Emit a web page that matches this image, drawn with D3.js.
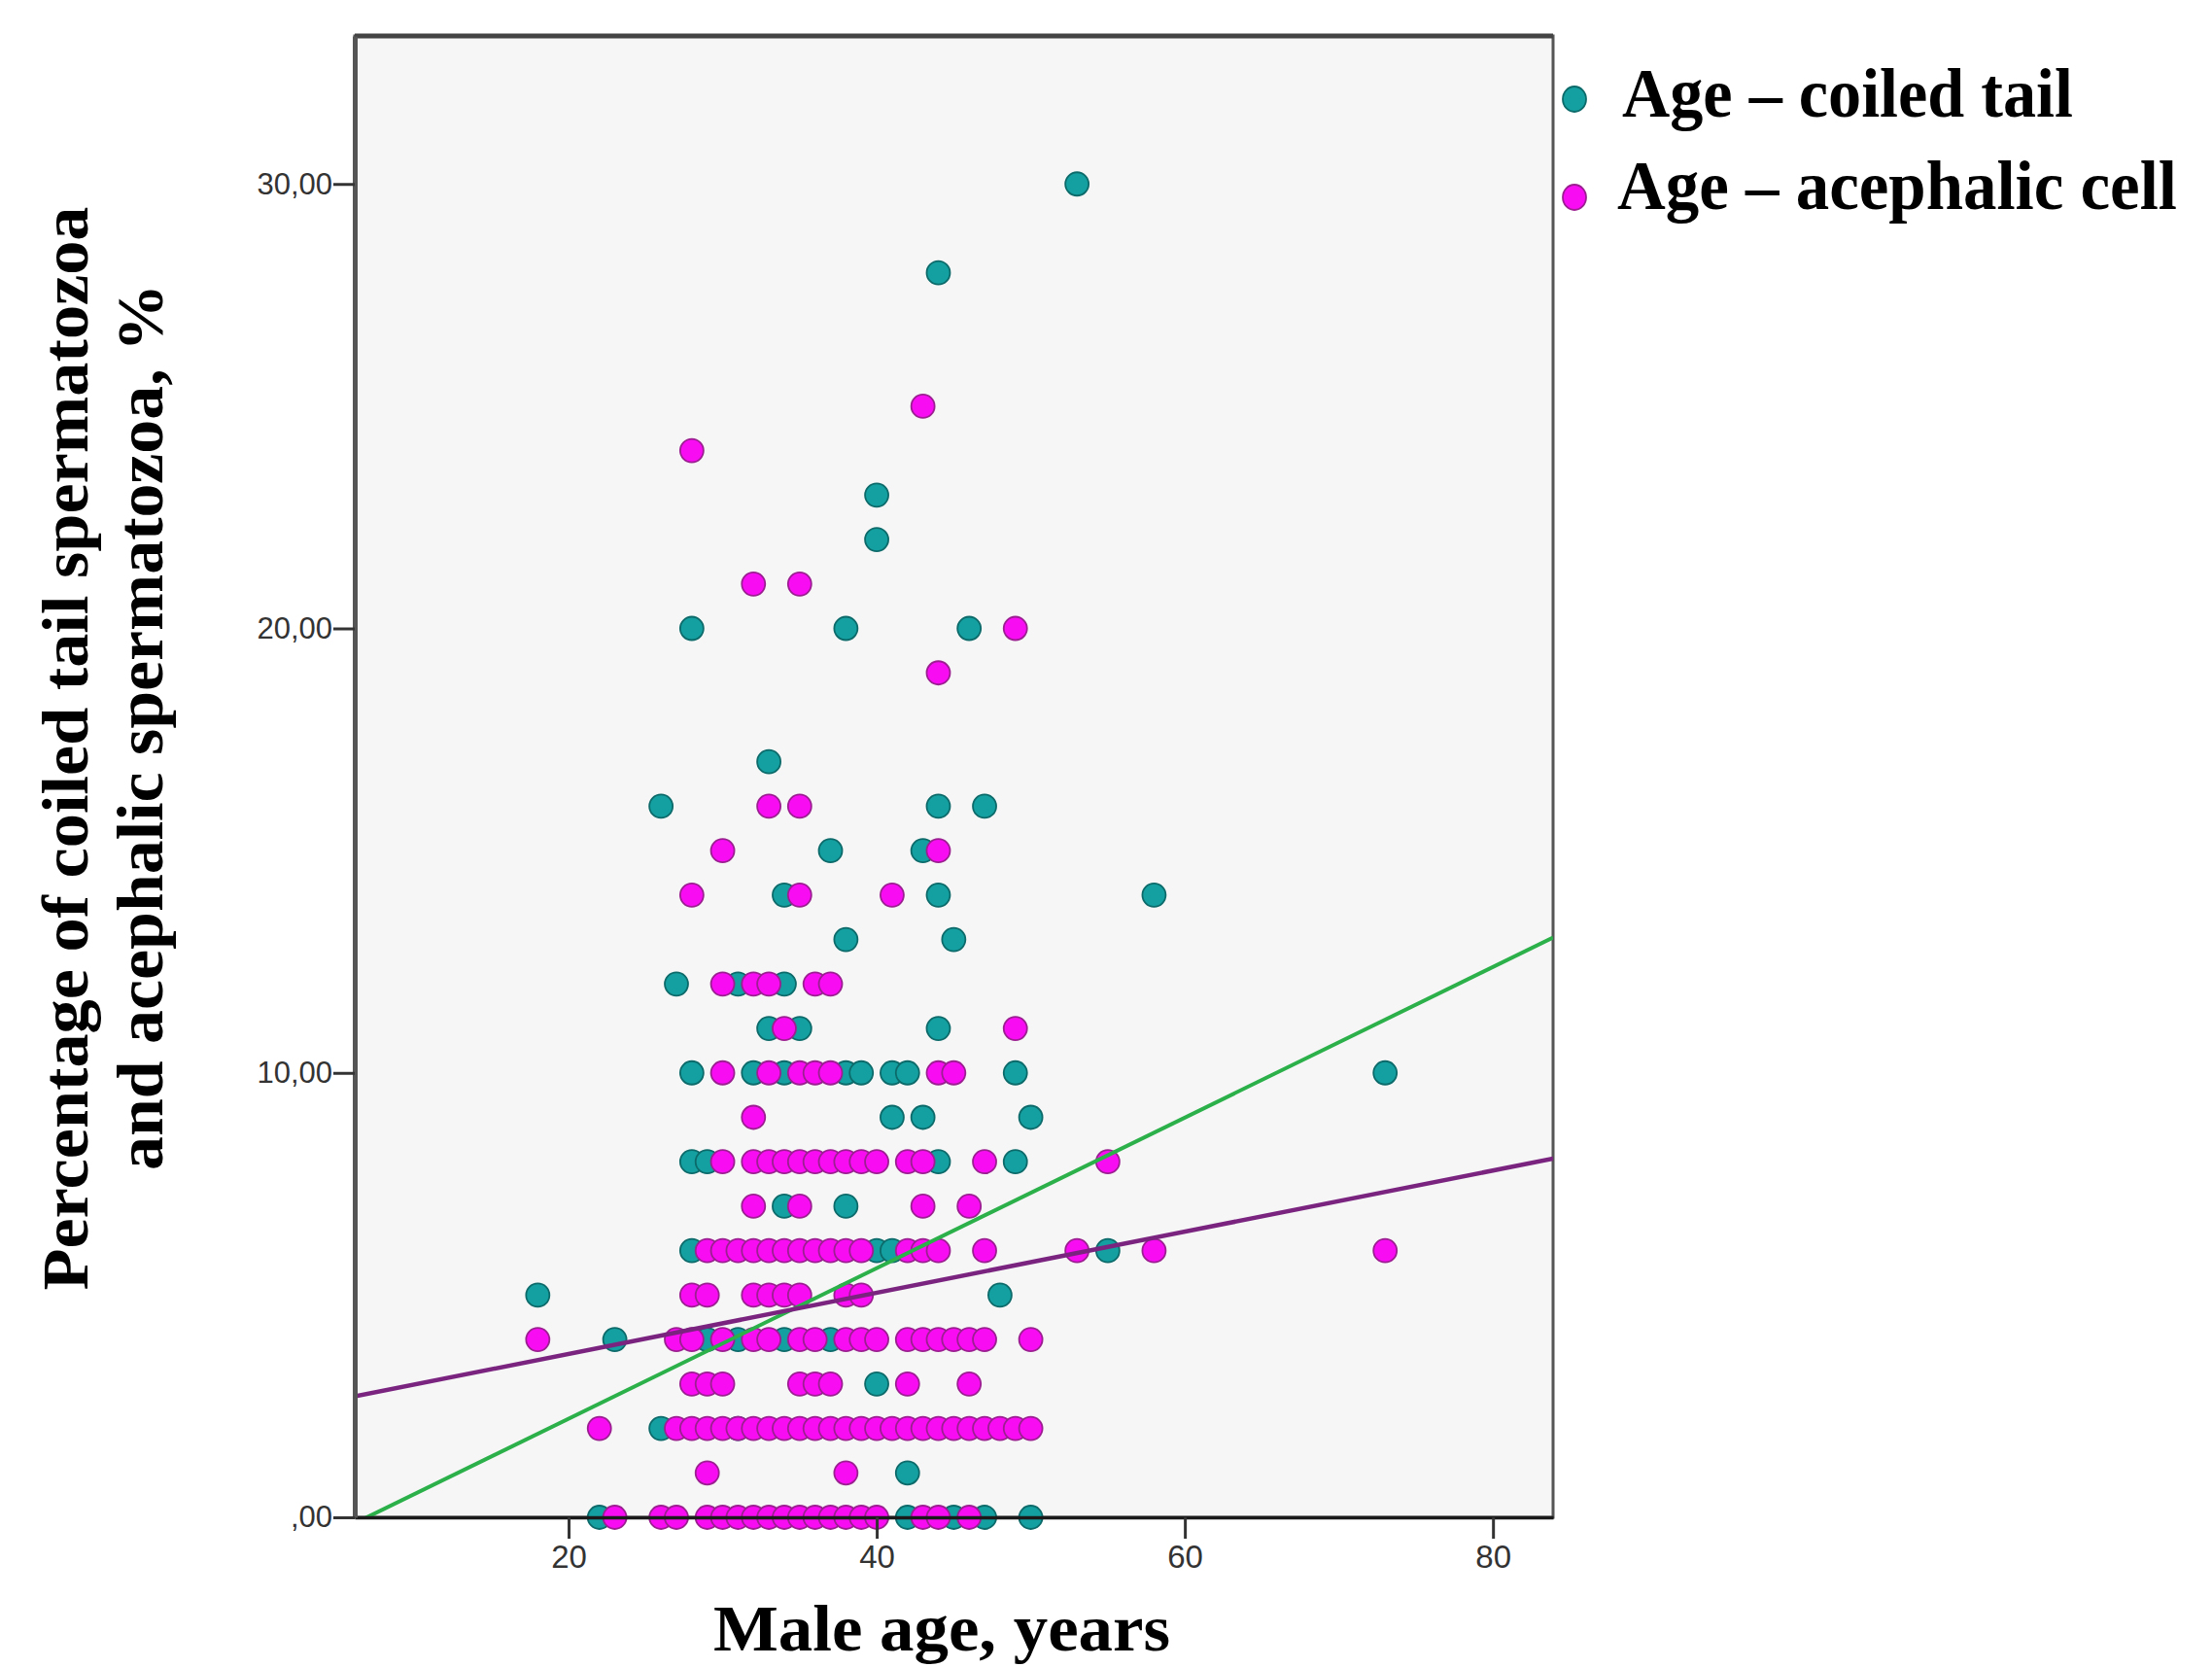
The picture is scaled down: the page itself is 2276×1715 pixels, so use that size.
<!DOCTYPE html>
<html>
<head>
<meta charset="utf-8">
<script src="https://cdn.jsdelivr.net/npm/d3@7"></script>
<style>
  body { margin: 0; background: #fff; }
  .tick text { font-family: "Liberation Sans", Arial, sans-serif; fill: #333; }
  .title { font-family: "Liberation Serif", "Times New Roman", serif; font-weight: bold; fill: #000; }
</style>
</head>
<body>
<svg id="chart" width="2276" height="1715"></svg>
<script>
// axis ticks
var xTicks = [20, 40, 60, 80];
var yTicks = [0, 10, 20, 30];
var yTickLabels = [",00", "10,00", "20,00", "30,00"];
var seriesNames = ["Age \u2013 coiled tail", "Age \u2013 acephalic cell"];

// [age, percent]
var coiledTail = [
  [53,30],[44,28],[40,23],[40,22],
  [28,20],[38,20],[46,20],
  [33,17],
  [26,16],[44,16],[47,16],
  [37,15],[43,15],
  [34,14],[44,14],[58,14],
  [38,13],[45,13],
  [27,12],[31,12],[34,12],
  [33,11],[35,11],[44,11],
  [28,10],[32,10],[34,10],[38,10],[39,10],[41,10],[42,10],[49,10],[73,10],
  [41,9],[43,9],[50,9],
  [28,8],[29,8],[44,8],[49,8],
  [34,7],[38,7],
  [28,6],[40,6],[41,6],[55,6],
  [18,5],[48,5],
  [23,4],[29,4],[31,4],[34,4],[37,4],
  [40,3],
  [26,2],[31,2],
  [42,1],
  [22,0],[42,0],[45,0],[47,0],[50,0]
];

var acephalicCell = [
  [43,25],[28,24],[32,21],[35,21],[49,20],[44,19],
  [33,16],[35,16],
  [30,15],[44,15],
  [28,14],[35,14],[41,14],
  [30,12],[32,12],[33,12],[36,12],[37,12],
  [34,11],[49,11],
  [30,10],[33,10],[35,10],[36,10],[37,10],[44,10],[45,10],
  [32,9],
  [30,8],[32,8],[33,8],[34,8],[35,8],[36,8],[37,8],[38,8],[39,8],[40,8],[42,8],[43,8],[47,8],[55,8],
  [32,7],[35,7],[43,7],[46,7],
  [29,6],[30,6],[31,6],[32,6],[33,6],[34,6],[35,6],[36,6],[37,6],[38,6],[39,6],[42,6],[43,6],[44,6],[47,6],[53,6],[58,6],[73,6],
  [28,5],[29,5],[32,5],[33,5],[34,5],[35,5],[38,5],[39,5],
  [18,4],[27,4],[28,4],[30,4],[32,4],[33,4],[35,4],[36,4],[38,4],[39,4],[40,4],[42,4],[43,4],[44,4],[45,4],[46,4],[47,4],[50,4],
  [28,3],[29,3],[30,3],[35,3],[36,3],[37,3],[42,3],[46,3],
  [22,2],[27,2],[28,2],[29,2],[30,2],[31,2],[32,2],[33,2],[34,2],[35,2],[36,2],[37,2],[38,2],[39,2],[40,2],[41,2],[42,2],[43,2],[44,2],[45,2],[46,2],[47,2],[48,2],[49,2],[50,2],
  [29,1],[38,1],
  [23,0],[26,0],[27,0],[29,0],[30,0],[31,0],[32,0],[33,0],[34,0],[35,0],[36,0],[37,0],[38,0],[39,0],[40,0],[43,0],[44,0],[46,0]
];

// linear fits: [intercept, slope]
var coiledFit = [-1.17, 0.1694];
var acephalicFit = [2.30, 0.0688];

var colors = {
  coiled: { fill: "#14a0a0", stroke: "#0d6a6a" },
  aceph:  { fill: "#f80cf2", stroke: "#9b1f90" }
};

var svg = d3.select("#chart");
var plot = { left: 365, right: 1598, top: 37, bottom: 1561 };

var x = d3.scaleLinear().domain([6.12, 83.9]).range([plot.left, plot.right]);
var y = d3.scaleLinear().domain([0, 33.33]).range([plot.bottom, plot.top]);

svg.append("defs").append("clipPath").attr("id", "clip")
  .append("rect")
  .attr("x", plot.left).attr("y", plot.top)
  .attr("width", plot.right - plot.left).attr("height", plot.bottom - plot.top);

// plot background
svg.append("rect")
  .attr("x", plot.left).attr("y", plot.top)
  .attr("width", plot.right - plot.left).attr("height", plot.bottom - plot.top)
  .attr("fill", "#f6f6f6")
  .attr("stroke", "#555").attr("stroke-width", 3);
// heavier top edge
svg.append("line")
  .attr("x1", plot.left).attr("x2", plot.right)
  .attr("y1", plot.top).attr("y2", plot.top)
  .attr("stroke", "#444").attr("stroke-width", 5);

var r = 12;

function drawPoints(data, c) {
  svg.append("g").selectAll("circle")
    .data(data)
    .enter().append("circle")
    .attr("cx", function(d) { return x(d[0]); })
    .attr("cy", function(d) { return y(d[1]); })
    .attr("r", r)
    .attr("fill", c.fill)
    .attr("stroke", c.stroke)
    .attr("stroke-width", 1.8);
}
drawPoints(coiledTail, colors.coiled);
drawPoints(acephalicCell, colors.aceph);

// fit lines
function drawFit(fit, color, w) {
  var xs = x.domain();
  svg.append("line")
    .attr("clip-path", "url(#clip)")
    .attr("x1", x(xs[0])).attr("y1", y(fit[0] + fit[1] * xs[0]))
    .attr("x2", x(xs[1])).attr("y2", y(fit[0] + fit[1] * xs[1]))
    .attr("stroke", color).attr("stroke-width", w);
}
drawFit(coiledFit, "#2bb04a", 4);
drawFit(acephalicFit, "#7a2480", 4.5);

// axes
var xAxis = svg.append("g")
  .attr("transform", "translate(0," + plot.bottom + ")")
  .call(d3.axisBottom(x).tickValues(xTicks).tickSize(22).tickSizeOuter(0).tickPadding(7));
xAxis.select(".domain").attr("stroke", "#1a1a1a").attr("stroke-width", 3.5);
xAxis.selectAll(".tick line").attr("stroke", "#333").attr("stroke-width", 3);
xAxis.selectAll(".tick text").attr("font-size", 33);

var yAxis = svg.append("g")
  .attr("transform", "translate(" + plot.left + ",0)")
  .call(d3.axisLeft(y).tickValues(yTicks)
    .tickFormat(function(d, i) { return yTickLabels[i]; })
    .tickSize(22).tickSizeOuter(0).tickPadding(1));
yAxis.select(".domain").attr("stroke", "#555").attr("stroke-width", 5);
yAxis.selectAll(".tick line").attr("stroke", "#333").attr("stroke-width", 3);
yAxis.selectAll(".tick text").attr("font-size", 31);

// axis titles
svg.append("text").attr("class", "title")
  .attr("x", 969).attr("y", 1698)
  .attr("text-anchor", "middle")
  .attr("font-size", 68)
  .attr("textLength", 470).attr("lengthAdjust", "spacingAndGlyphs")
  .text("Male age, years");

svg.append("text").attr("class", "title")
  .attr("transform", "translate(90,770) rotate(-90)")
  .attr("text-anchor", "middle")
  .attr("font-size", 68)
  .attr("textLength", 1115).attr("lengthAdjust", "spacingAndGlyphs")
  .text("Percentage of coiled tail spermatozoa");

svg.append("text").attr("class", "title")
  .attr("transform", "translate(167,748) rotate(-90)")
  .attr("text-anchor", "middle")
  .attr("font-size", 68)
  .attr("textLength", 912).attr("lengthAdjust", "spacingAndGlyphs")
  .text("and acephalic spermatozoa, %");

// legend
var legendItems = [
  { name: seriesNames[0], c: colors.coiled, cy: 102, tx: 1669, ty: 120, len: 464 },
  { name: seriesNames[1], c: colors.aceph, cy: 203, tx: 1664, ty: 215, len: 576 }
];
var lg = svg.append("g").selectAll("g").data(legendItems).enter().append("g");
lg.append("ellipse")
  .attr("cx", 1620).attr("cy", function(d) { return d.cy; })
  .attr("rx", 12).attr("ry", 13)
  .attr("fill", function(d) { return d.c.fill; })
  .attr("stroke", function(d) { return d.c.stroke; })
  .attr("stroke-width", 1.8);
lg.append("text").attr("class", "title")
  .attr("x", function(d) { return d.tx; })
  .attr("y", function(d) { return d.ty; })
  .attr("font-size", 72)
  .attr("textLength", function(d) { return d.len; })
  .attr("lengthAdjust", "spacingAndGlyphs")
  .text(function(d) { return d.name; });
</script>
</body>
</html>
